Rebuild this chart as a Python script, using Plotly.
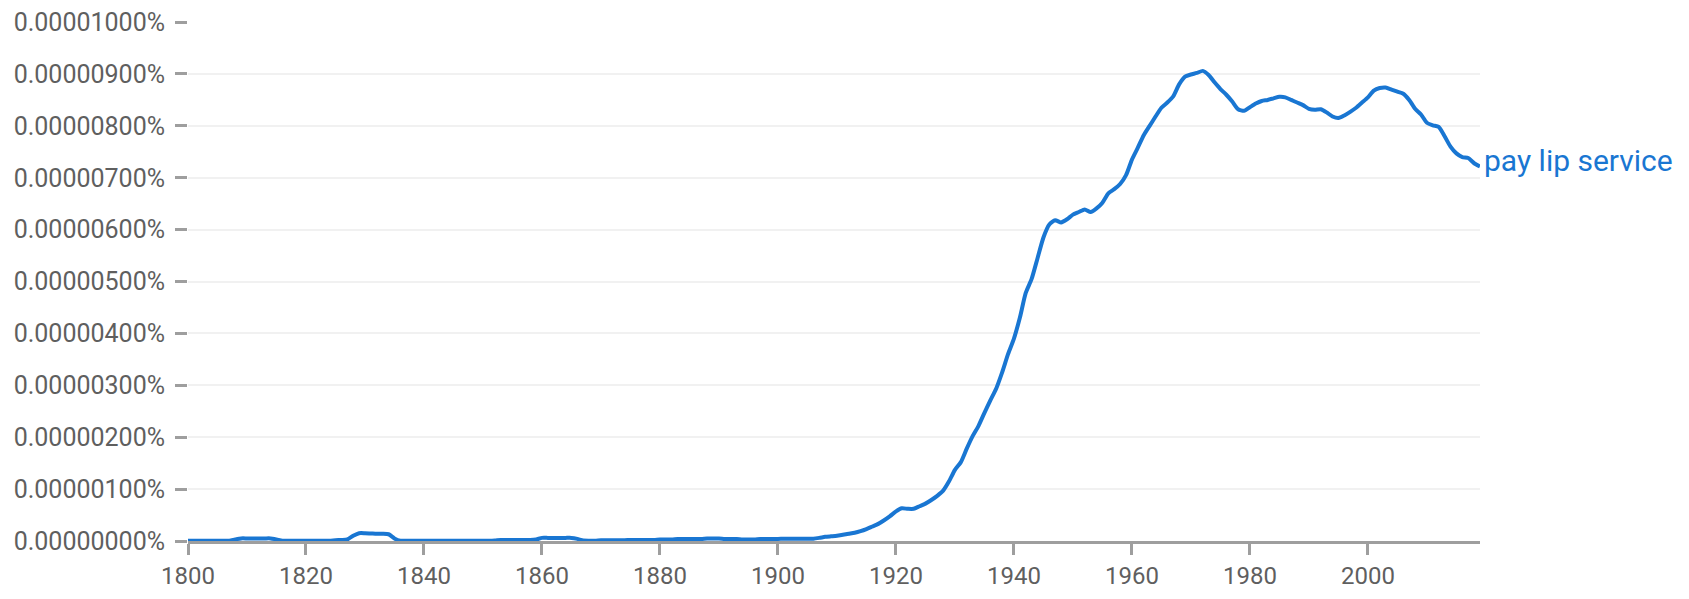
import plotly.graph_objects as go

# frequency of "pay lip service", in units of 1e-8 percent, one value per year
years = list(range(1800, 2020))
freq_units = [
    # 1800-1809
    0.5, 0.5, 0.5, 0.5, 0.5, 0.5, 0.5, 0.5, 3, 5,
    # 1810-1819
    5, 5, 5, 5, 5, 3, 0.5, 0.5, 0.5, 0.5,
    # 1820-1829
    0.5, 0.5, 0.5, 0.5, 0.5, 1.5, 2, 3, 10, 15,
    # 1830-1839
    15, 14.5, 14, 14, 13, 5, 0.5, 0.5, 0.5, 0.5,
    # 1840-1849
    0.5, 0.5, 0.5, 0.5, 0.5, 0.5, 0.5, 0.5, 0.5, 0.5,
    # 1850-1859
    0.5, 0.5, 1, 2, 2, 2, 2, 2, 2, 3,
    # 1860-1869
    6, 6, 6, 6, 6, 6, 4, 1, 0.5, 0.5,
    # 1870-1879
    1.5, 1.5, 1.5, 1.5, 1.5, 2, 2, 2, 2, 2,
    # 1880-1889
    3, 3, 3, 4, 4, 4, 4, 4, 5, 5,
    # 1890-1899
    5, 4, 4, 4, 3, 3, 3, 4, 4, 4,
    # 1900-1909
    4, 4.5, 4.5, 4.5, 4.5, 4.5, 4.5, 6, 8, 9,
    # 1910-1919
    10, 12, 14, 16, 19, 23, 28, 33, 40, 48,
    # 1920-1929
    57, 63, 62, 62, 67, 72, 79, 87, 97, 115,
    # 1930-1939
    137, 152, 178, 202, 222, 247, 271, 294, 325, 360,
    # 1940-1949
    390, 430, 478, 505, 545, 585, 610, 618, 614, 620,
    # 1950-1959
    629, 634, 639, 634, 641, 652, 670, 678, 688, 705,
    # 1960-1969
    735, 758, 782, 800, 818, 835, 845, 857, 880, 895,
    # 1970-1979
    899, 902, 906, 898, 884, 871, 860, 847, 832, 829,
    # 1980-1989
    836, 843, 848, 850, 853, 856, 855, 850, 845, 840,
    # 1990-1999
    833, 831, 832, 826, 818, 815, 820, 827, 835, 845,
    # 2000-2009
    855, 868, 873, 874, 870, 866, 862, 850, 833, 822,
    # 2010-2019
    806, 801, 798, 780, 760, 747, 740, 738, 728, 722,
]
freq_pct = [u * 1e-8 for u in freq_units]

phrase = "pay lip service"
y_ticks = [i * 1e-6 for i in range(11)]
y_labels = [f"{v:.8f}%" for v in y_ticks]
x_ticks = [1800, 1820, 1840, 1860, 1880, 1900, 1920, 1940, 1960, 1980, 2000]

blue = "#1976d2"
grey = "#9e9e9e"
text_grey = "#5f5f5f"

fig = go.Figure(
    go.Scatter(
        x=years,
        y=freq_pct,
        mode="lines",
        line=dict(color=blue, width=4, shape="spline", smoothing=0.6),
        hoverinfo="skip",
        showlegend=False,
    )
)

fig.add_annotation(
    x=years[-1],
    y=freq_pct[-1],
    xref="x",
    yref="y",
    text=phrase,
    showarrow=False,
    xanchor="left",
    yanchor="middle",
    xshift=2,
    yshift=6,
    font=dict(family="Roboto", size=30, color=blue),
)

fig.update_xaxes(
    range=[1800, 2019],
    tickvals=x_ticks,
    ticks="outside",
    ticklen=11,
    tickwidth=2.5,
    tickcolor=grey,
    showline=True,
    linecolor=grey,
    linewidth=2.5,
    showgrid=False,
    zeroline=False,
    automargin=False,
    tickfont=dict(family="Roboto", size=24, color=text_grey),
)
# upper bound nudged a hair past the top tick so its grid line is still drawn
fig.update_yaxes(
    range=[0, 1.0002e-5],
    tickvals=y_ticks,
    ticktext=y_labels,
    ticks="outside",
    ticklen=12,
    tickwidth=2.5,
    tickcolor=grey,
    ticklabelstandoff=5,
    ticklabeloverflow="allow",
    showline=False,
    showgrid=True,
    gridcolor="#f1f1f1",
    gridwidth=2,
    zeroline=False,
    automargin=False,
    tickfont=dict(family="Roboto", size=25, color=text_grey),
)

# the page body adds 8px around the plot, so margins are trimmed to compensate
fig.update_layout(
    width=1689,
    height=599,
    margin=dict(l=180, r=217, t=14, b=66),
    paper_bgcolor="white",
    plot_bgcolor="white",
    hovermode=False,
)

fig.write_html("out.html")
